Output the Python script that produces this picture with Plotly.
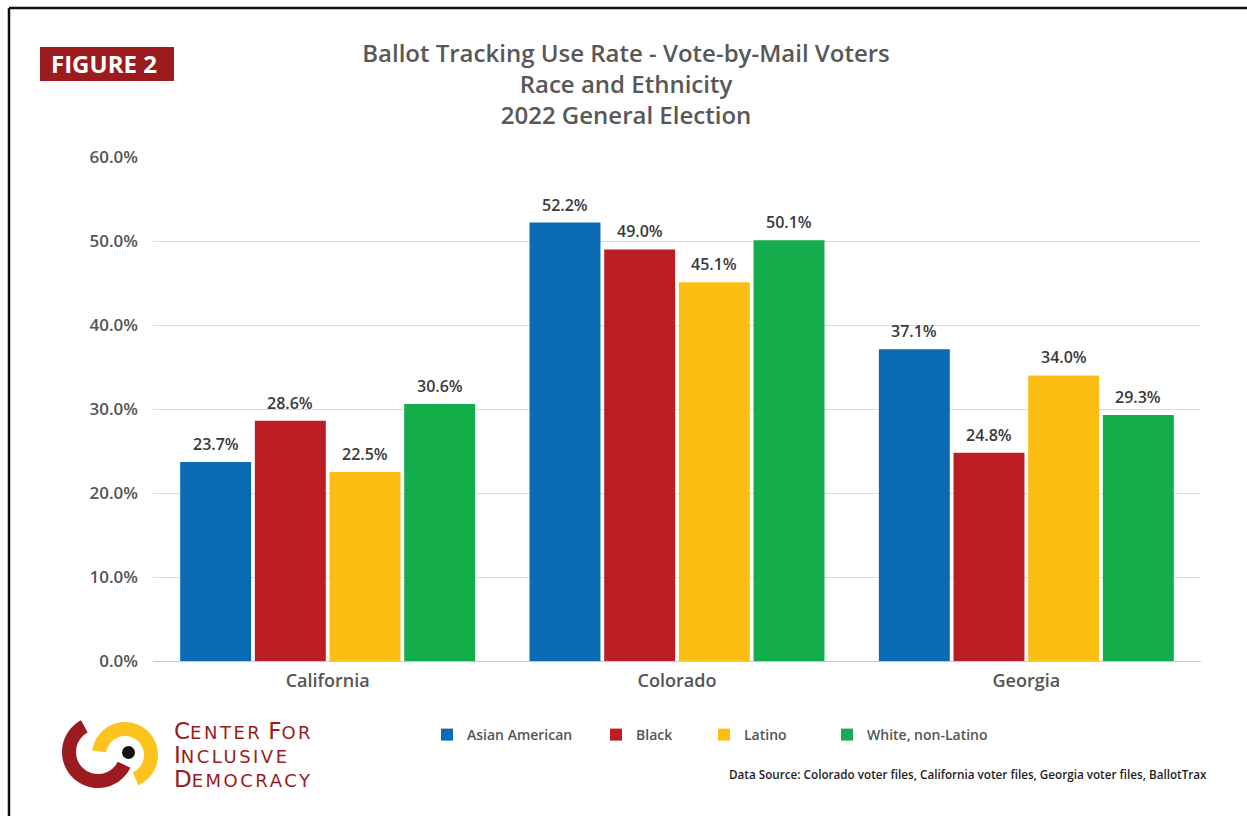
import math
import plotly.graph_objects as go

# ---- data -------------------------------------------------------------
states = ["California", "Colorado", "Georgia"]
groups = ["Asian American", "Black", "Latino", "White, non-Latino"]
asian_american = [23.7, 52.2, 37.1]
black = [28.6, 49.0, 24.8]
latino = [22.5, 45.1, 34.0]
white_non_latino = [30.6, 50.1, 29.3]
y_ticks = [0, 10, 20, 30, 40, 50, 60]

series = [asian_american, black, latino, white_non_latino]
colors = ["#0A6AB4", "#BD1E24", "#FDBE14", "#13AD4B"]

# ---- page geometry (pixels) -------------------------------------------
W, H = 1247, 816
L, R, T, B = 153, 1201, 157, 661          # plot-area edges
BARGAP = 0.145


def px(x):
    return (x - L) / (R - L)


def py(y):
    return (B - y) / (B - T)


fig = go.Figure()

legend_names = ["legend", "legend2", "legend3", "legend4"]
for name, vals, col, lg in zip(groups, series, colors, legend_names):
    fig.add_trace(go.Bar(
        x=states, y=vals, name=name, legend=lg,
        marker=dict(color=col, line=dict(width=0)),
        hovertemplate="%{x}<br>" + name + ": %{y:.1f}%<extra></extra>",
    ))

annotations = []

# value labels above each bar (grouped slots on the category axis)
slot = (1 - BARGAP) / len(series)
for k, vals in enumerate(series):
    for i, v in enumerate(vals):
        annotations.append(dict(
            x=i + (k - (len(series) - 1) / 2) * slot, y=v,
            xref="x", yref="y", text=f"{v:.1f}%", showarrow=False,
            xanchor="center", yanchor="bottom", yshift=5,
            font=dict(family="Open Sans", size=16, color="#3a3a3a", weight=600),
        ))


# ---- logo arcs (drawn as polygons) ------------------------------------
def ring_path(cx, cy, r_out, r_in, a0, a1, n=60):
    pts = []
    for i in range(n + 1):
        a = math.radians(a0 + (a1 - a0) * i / n)
        pts.append((cx + r_out * math.cos(a), cy - r_out * math.sin(a)))
    for i in range(n, -1, -1):
        a = math.radians(a0 + (a1 - a0) * i / n)
        pts.append((cx + r_in * math.cos(a), cy - r_in * math.sin(a)))
    return "M" + " L".join(f"{px(x):.5f},{py(y):.5f}" for x, y in pts) + " Z"


shapes = []
# outer frame (top and left rules)
shapes.append(dict(type="line", xref="paper", yref="paper",
                   x0=px(9), x1=px(W + 5), y0=py(8), y1=py(8),
                   line=dict(color="#111111", width=2.5)))
shapes.append(dict(type="line", xref="paper", yref="paper",
                   x0=px(9), x1=px(9), y0=py(8), y1=py(H + 5),
                   line=dict(color="#111111", width=2.5)))
# "FIGURE 2" badge
shapes.append(dict(type="rect", xref="paper", yref="paper",
                   x0=px(40), x1=px(174), y0=py(47), y1=py(81),
                   fillcolor="#9B1B1F", line=dict(width=0)))
# logo
shapes.append(dict(type="path", xref="paper", yref="paper",
                   path=ring_path(98, 752, 36, 22, 118, 334),
                   fillcolor="#9B1B20", line=dict(width=0)))
shapes.append(dict(type="path", xref="paper", yref="paper",
                   path=ring_path(125, 755, 33, 19, 172, -66),
                   fillcolor="#FCC41C", line=dict(width=0)))
shapes.append(dict(type="circle", xref="paper", yref="paper",
                   x0=px(122), x1=px(135), y0=py(746), y1=py(759),
                   fillcolor="#111111", line=dict(width=0)))

red_caps = "#9B1B20"


def small_caps(word):
    return (f"<span style='font-size:23px'>{word[0]}</span>"
            f"<span style='font-size:18px;letter-spacing:2.5px'>"
            f"{word[1:].upper()}</span>")


logo_text = (small_caps("Center") + " " + small_caps("For") + "<br>"
             + small_caps("Inclusive") + "<br>" + small_caps("Democracy"))

annotations += [
    dict(text="FIGURE 2", x=px(104), y=py(63), xref="paper", yref="paper",
         showarrow=False, xanchor="center", yanchor="middle",
         font=dict(family="Open Sans", size=24, color="white", weight=700)),
    dict(text=logo_text, x=px(172), y=py(755), xref="paper", yref="paper",
         showarrow=False, xanchor="left", yanchor="middle", align="left",
         font=dict(family="DejaVu Sans", size=18.5, color=red_caps)),
    dict(text="Data Source: Colorado voter files, California voter files, "
              "Georgia voter files, BallotTrax",
         x=px(1209), y=py(774), xref="paper", yref="paper", showarrow=False,
         xanchor="right", yanchor="middle",
         font=dict(family="Open Sans", size=11.7, color="#1e1e1e", weight=600)),
]

# one legend per group so each entry sits at its own position
legend_x = [446, 615, 723, 846]
legend_style = dict(orientation="h", yanchor="middle", xanchor="left",
                    bgcolor="rgba(0,0,0,0)", borderwidth=0,
                    font=dict(family="Open Sans", size=14, color="#555555",
                              weight=600))
legends = {}
for lg, lx in zip(legend_names, legend_x):
    legends[lg] = dict(x=px(lx - 19), y=py(735), **legend_style)

fig.update_layout(
    width=W, height=H,
    margin=dict(l=L, r=W - R, t=T, b=H - B, autoexpand=False),
    paper_bgcolor="white", plot_bgcolor="white",
    barmode="group", bargap=BARGAP, bargroupgap=0.05,
    title=dict(
        text="Ballot Tracking Use Rate - Vote-by-Mail Voters<br>"
             "Race and Ethnicity<br>2022 General Election",
        x=px(626), xanchor="center", xref="paper",
        y=1 - 62 / H, yanchor="middle", yref="container",
        font=dict(family="Open Sans", size=24, color="#585858", weight=600),
    ),
    xaxis=dict(
        showgrid=False, showline=False, ticks="",
        tickfont=dict(family="Open Sans", size=18, color="#555555", weight=600),
        ticklabelstandoff=7,
    ),
    yaxis=dict(
        range=[0, 60], tickvals=y_ticks,
        ticktext=[f"{v:.1f}%" for v in y_ticks],
        showgrid=True, gridcolor="#dcdcdc", gridwidth=1,
        zeroline=True, zerolinecolor="#c8c8c8", zerolinewidth=1,
        showline=False, ticks="",
        tickfont=dict(family="Open Sans", size=17, color="#555555", weight=600),
        ticklabelstandoff=14,
    ),
    shapes=shapes,
    annotations=annotations,
    showlegend=True,
    **legends,
)

fig.write_html("out.html")
